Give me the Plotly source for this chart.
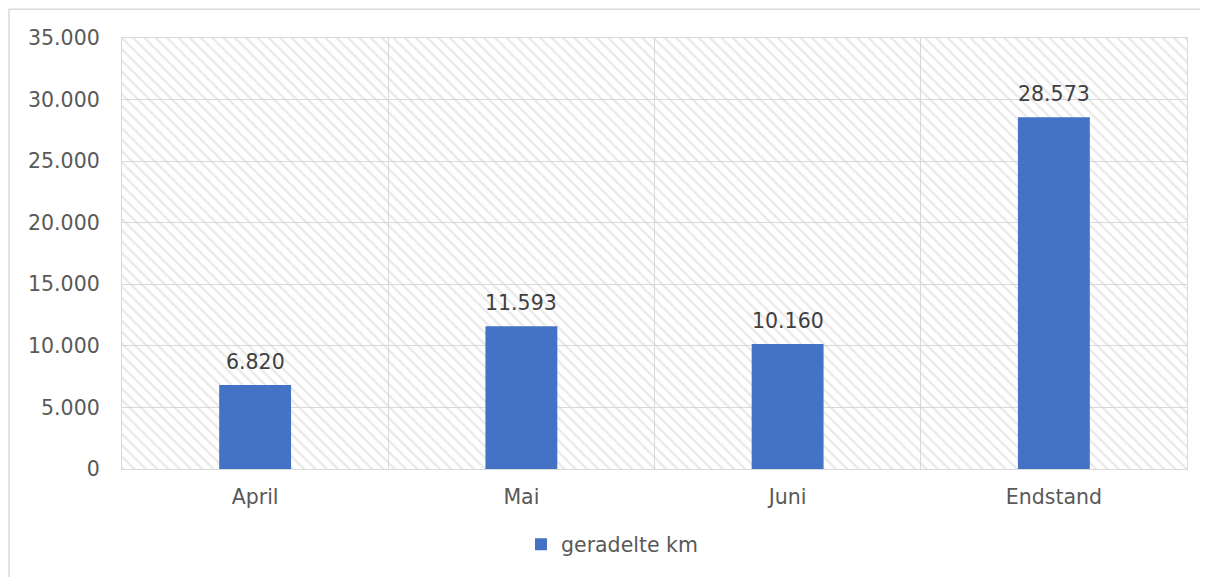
import plotly.graph_objects as go

categories = ["April", "Mai", "Juni", "Endstand"]
values = [6820, 11593, 10160, 28573]
series_name = "geradelte km"
y_max = 35000
y_ticks = [0, 5000, 10000, 15000, 20000, 25000, 30000, 35000]

OFF = 8  # page body margin
L, R, T, B = 122 - OFF, 1187 - OFF, 38 - OFF, 472 - OFF
W, H = 1208 - OFF, 577 - OFF

def px_x(px):
    return (px - OFF - L) / (R - L)

def px_y(py):
    return (B - (py - OFF)) / (B - T)

def fmt(v):
    return f"{v:,}".replace(",", ".")

fig = go.Figure()

# hatched plot-area background
fig.add_trace(go.Bar(
    x=categories, y=[y_max] * len(categories), width=1,
    marker=dict(color="rgba(0,0,0,0)", line=dict(width=0),
                pattern=dict(shape="\\", fgcolor="#d4d4d4", bgcolor="rgba(0,0,0,0)",
                             size=8, solidity=0.3)),
    showlegend=False, hoverinfo="skip",
))

fig.add_trace(go.Bar(
    x=categories, y=values, name=series_name, width=0.27,
    marker=dict(color="#4472C4", line=dict(width=0)),
))

annotations = [
    dict(x=c, y=v, xref="x", yref="y", text=fmt(v), showarrow=False,
         yanchor="bottom", yshift=9,
         font=dict(family="DejaVu Sans", size=20.5, color="#404040"))
    for c, v in zip(categories, values)
]

fig.update_layout(
    width=W, height=H,
    margin=dict(l=L, r=W - R, t=T, b=H - B),
    barmode="overlay",
    separators=",.",
    plot_bgcolor="white", paper_bgcolor="white",
    font=dict(family="DejaVu Sans", size=20.5, color="#595959"),
    showlegend=True,
    legend=dict(orientation="h", x=px_x(612), xanchor="center", y=px_y(548), yanchor="middle",
                font=dict(size=20.5, color="#595959"), itemwidth=30),
    xaxis=dict(type="category", tickson="boundaries", showgrid=True, gridcolor="#d9d9d9", gridwidth=1.3,
               ticks="outside", ticklen=28, tickcolor="rgba(0,0,0,0)", ticklabelstandoff=9,
               showline=True, linecolor="#d9d9d9", linewidth=1.3, mirror=True,
               range=[-0.5, 3.5]),
    yaxis=dict(range=[0, y_max], tickvals=y_ticks, tickformat=",d", showgrid=True,
               gridcolor="#d9d9d9", gridwidth=1.3,
               ticks="outside", ticklen=17, tickcolor="rgba(0,0,0,0)",
               showline=True, linecolor="#d9d9d9", linewidth=1.3, mirror=True, zeroline=False),
    annotations=annotations,
    shapes=[dict(type="rect", xref="paper", yref="paper",
                 x0=px_x(9), x1=px_x(1240), y0=px_y(600), y1=px_y(9),
                 line=dict(color="#d9d9d9", width=1.5), fillcolor="rgba(0,0,0,0)", layer="below")],
)

fig.write_html("out.html")
